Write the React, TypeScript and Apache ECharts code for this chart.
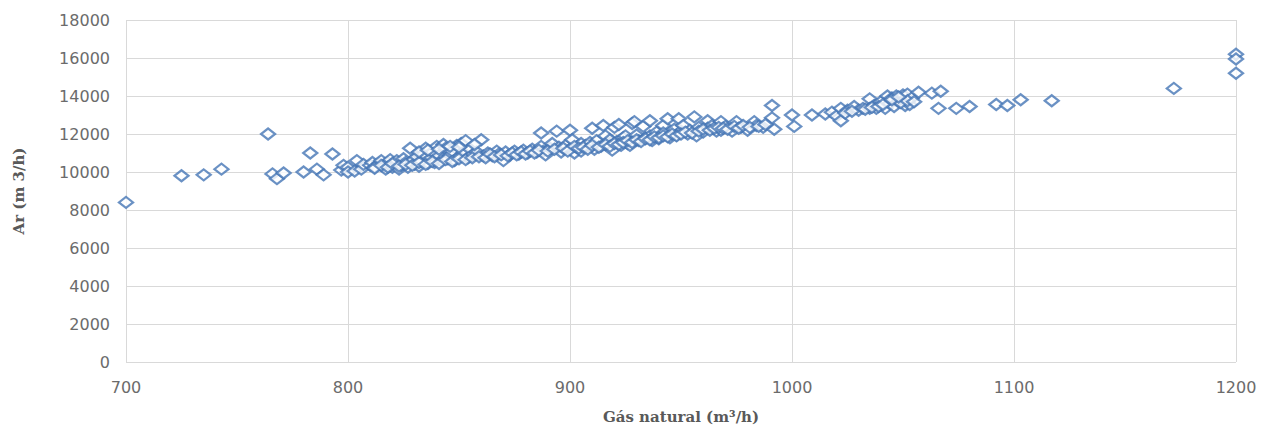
import React, { useEffect, useRef } from "react";
import * as echarts from "echarts";

const xTicks = [700, 800, 900, 1000, 1100, 1200];
const yTicks = [0, 2000, 4000, 6000, 8000, 10000, 12000, 14000, 16000, 18000];

const gasNatural: number[] = [
  700, 725, 735, 743, 764, 766, 768, 771, 780, 783, 786, 789, 793, 797, 798, 800, 800, 803, 804, 806, 807,
  810, 811, 812, 814, 815, 816, 817, 818, 819, 820, 821, 822, 823, 824, 825, 826, 827, 828, 829, 830,
  831, 832, 833, 834, 835, 836, 837, 838, 839, 840, 841, 842, 843, 844, 845, 846, 847, 848, 849, 850,
  851, 852, 853, 854, 855, 856, 858, 860, 861,
  863, 865, 867, 868, 870, 871, 873, 875, 877, 879, 881, 883, 885,
  887, 887, 888, 889, 891, 892, 894, 895, 896, 898, 900, 900, 901, 902, 903, 905, 905,
  907, 909, 910, 911, 912, 914, 915, 916, 917, 918, 919, 920, 921, 922, 923, 924, 925, 926,
  927, 928, 929, 930, 931, 933, 934, 936, 936, 937, 939, 940, 942, 942, 944, 945, 947, 948, 949, 950,
  951, 953, 954, 956, 957, 958,
  960, 962, 962, 964, 966, 968, 968, 970, 973, 975, 977, 980, 983, 984, 987, 991, 991, 992, 1000, 1001,
  1009, 1015, 1018, 1020, 1022, 1022, 1025, 1028, 1030, 1032, 1035, 1035, 1037, 1038, 1040, 1042, 1043,
  1044, 1045, 1046, 1047, 1048, 1050, 1051, 1052, 1053, 1054, 1057, 1063, 1066, 1067, 1074, 1080,
  1092, 1097, 1103, 1117, 1172, 1200, 1200, 1200,
  812, 815, 818, 820, 823, 826, 829, 832, 835, 838, 841, 844, 847, 850, 853, 856, 859, 862, 864, 866,
  869, 872, 874, 876, 878, 880, 882, 884, 886, 890, 893, 897, 899, 902, 904, 906, 908, 910, 913, 916,
  918, 920, 922, 924, 926, 928, 930, 932, 934, 936, 938, 940, 942, 944, 946, 948, 950, 952, 955, 958,
  960, 963, 965, 967, 969, 971, 974, 976, 978, 981, 985, 988,
  832, 836, 841, 846, 850, 857,
  1024, 1027, 1033, 1036, 1039, 1041, 1049, 1052, 1055, 1045, 1048,
];

const ar: number[] = [
  8400, 9800, 9850, 10150, 12000, 9900, 9650, 9950, 10000, 11000, 10150, 9850, 10950, 10100, 10350, 10250, 10000, 10050, 10600, 10150, 10400,
  10350, 10500, 10250, 10450, 10600, 10300, 10150, 10500, 10650, 10250, 10400, 10600, 10150, 10350, 10700, 10500, 10250, 11250, 10600, 10400,
  10800, 10300, 10550, 10950, 11250, 10450, 10700, 11050, 10500, 11350, 10850, 10600, 11450, 11250, 10700, 10900, 11100, 10600, 11400, 10800,
  11500, 11000, 11650, 10750, 11200, 10900, 11050, 11700, 10850,
  11000, 10850, 11100, 10950, 10600, 11050, 10900, 11100, 10950, 11150, 11000, 11200, 11050,
  12050, 11350, 11100, 10900, 11250, 11500, 12150, 11300, 11050, 11400, 12200, 11200, 11700, 11000, 11300, 11500, 11100,
  11400, 11550, 12300, 11200, 11650, 11350, 12450, 11900, 11500, 11700, 11150, 12350, 11600, 12500, 11400, 11800, 11900, 11500,
  11400, 12550, 12650, 11950, 11650, 12400, 11800, 12700, 11900, 11650, 12100, 11750, 12450, 12050, 12800, 11800, 12250, 11950, 12800, 12150,
  12450, 12000, 12200, 12900, 11900, 12350,
  12100, 12700, 12300, 12450, 12150, 12650, 12200, 12400, 12150, 12650, 12350, 12200, 12650, 12450, 12350, 13500, 12850, 12250, 13000, 12400,
  13000, 13050, 13150, 12950, 12700, 13350, 13250, 13450, 13250, 13350, 13850, 13350, 13500, 13350, 13700, 13350, 14000,
  13600, 13900, 13450, 14000, 13700, 14050, 13500, 14100, 13550, 13900, 14200, 14150, 13350, 14250, 13350, 13450,
  13550, 13500, 13800, 13750, 14400, 16200, 15950, 15200,
  10200, 10350, 10250, 10450, 10300, 10400, 10350, 10500, 10400, 10550, 10450, 10650, 10550, 10700, 10650, 10750, 10800, 10750, 10950, 10800,
  10900, 10850, 11000, 10900, 11050, 10950, 11100, 11000, 11150, 11100, 11200, 11250, 11100, 11350, 11250, 11300, 11200, 11400, 11300, 11450,
  11350, 11500, 11450, 11550, 11650, 11550, 11700, 11600, 11750, 11700, 11850, 11800, 11900, 11850, 12000, 11900, 12000, 12100, 12050, 12150,
  12250, 12200, 12300, 12350, 12300, 12250, 12400, 12300, 12450, 12350, 12400, 12500,
  11050, 11150, 11200, 11350, 11300, 11450,
  13100, 13200, 13300, 13400, 13450, 13550, 13650, 13750, 13700, 13800, 13950,
];

const xTitle = "Gás natural (m³/h)";
const yTitle = "Ar (m 3/h)";

export default function App() {
  const ref = useRef<HTMLDivElement>(null);
  useEffect(() => {
    document.body.style.margin = "0";
    if (!ref.current) return;
    const chart = echarts.init(ref.current, null, { renderer: "svg" });
    const points = gasNatural.map((x, i) => [x, ar[i]]);
    const gridColor = "#d9d9d9";
    const labelColor = "#6b6b6b";
    const fmt = (v: number) => String(v);
    chart.setOption({
      animation: false,
      backgroundColor: "#ffffff",
      grid: { left: 126, right: 28, top: 20, bottom: 62, containLabel: false },
      xAxis: {
        type: "value",
        min: xTicks[0],
        max: xTicks[xTicks.length - 1],
        interval: 100,
        name: xTitle,
        nameLocation: "middle",
        nameGap: 47,
        nameTextStyle: { fontFamily: "DejaVu Serif", fontWeight: "bold", fontSize: 15, color: "#595959" },
        axisLine: { show: false },
        axisTick: { show: false },
        axisLabel: { margin: 17, fontFamily: "DejaVu Sans", fontSize: 16, color: labelColor, formatter: fmt },
        splitLine: { show: true, lineStyle: { color: gridColor, width: 1 } },
      },
      yAxis: {
        type: "value",
        min: yTicks[0],
        max: yTicks[yTicks.length - 1],
        interval: 2000,
        name: yTitle,
        nameLocation: "middle",
        nameGap: 100,
        nameTextStyle: { fontFamily: "DejaVu Serif", fontWeight: "bold", fontSize: 15, color: "#595959" },
        axisLine: { show: false },
        axisTick: { show: false },
        axisLabel: { margin: 16, fontFamily: "DejaVu Sans", fontSize: 16, color: labelColor, formatter: fmt },
        splitLine: { show: true, lineStyle: { color: gridColor, width: 1 } },
      },
      series: [
        {
          type: "scatter",
          data: points,
          symbol: "diamond",
          symbolSize: [14, 11],
          itemStyle: { color: "#ffffff", borderColor: "#4576b5", borderWidth: 2.3 },
        },
      ],
    });
    return () => chart.dispose();
  }, []);
  return <div ref={ref} style={{ width: 1264, height: 429 }} />;
}
